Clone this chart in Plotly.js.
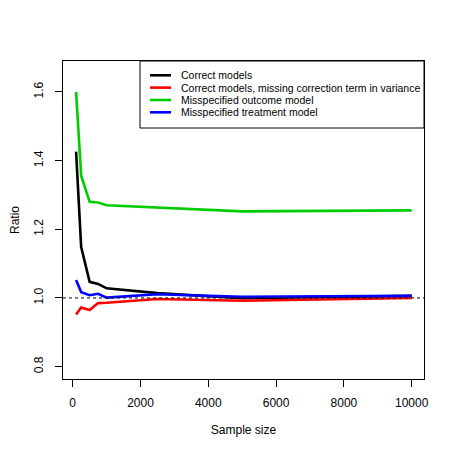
<!DOCTYPE html>
<html>
<head>
<meta charset="utf-8">
<script src="https://cdn.plot.ly/plotly-3.0.1.min.js"></script>
<style>
  html, body { margin: 0; padding: 0; background: #fff; }
  #plot { width: 457px; height: 457px; }
</style>
</head>
<body>
<div id="plot"></div>
<script>
// Sample sizes on the x axis
const sampleSize = [100, 250, 500, 750, 1000, 2500, 5000, 10000];

// Ratio for each scenario
const correctModels   = [1.426, 1.148, 1.047, 1.041, 1.028, 1.014, 0.999, 1.006];
const missingCorrTerm = [0.952, 0.972, 0.965, 0.985, 0.986, 0.997, 0.992, 1.000];
const missOutcome     = [1.600, 1.356, 1.280, 1.278, 1.270, 1.263, 1.252, 1.255];
const missTreatment   = [1.052, 1.017, 1.008, 1.012, 1.001, 1.011, 1.003, 1.006];

const seriesNames = [
    'Correct models',
    'Correct models, missing correction term in variance',
    'Misspecified outcome model',
    'Misspecified treatment model'
];
const seriesValues = [correctModels, missingCorrTerm, missOutcome, missTreatment];
const colors = ['#000000', '#ff0000', '#00cd00', '#0000ff'];

const xTicks = [0, 2000, 4000, 6000, 8000, 10000];
const yTicks = [0.8, 1.0, 1.2, 1.4, 1.6];

// plot box in pixels
const W = 457, H = 457;
const box = {left: 63, right: 424, top: 61, bottom: 379};
const pw = box.right - box.left, ph = box.bottom - box.top;
const px2x = p => (p - box.left) / pw;
const px2y = p => (box.bottom - p) / ph;

const font = {family: 'Liberation Sans, Arial, sans-serif', size: 12, color: '#000'};

let traces = seriesValues.map((vals, i) => ({
    x: sampleSize,
    y: vals,
    mode: 'lines',
    name: seriesNames[i],
    line: {color: colors[i], width: 2.6},
    showlegend: false,
    hoverinfo: 'skip'
}));

// hand made legend, R style
let shapes = [
    // reference line at ratio 1
    {type: 'line', xref: 'paper', yref: 'y', x0: 0, x1: 1, y0: 1, y1: 1,
     line: {color: '#000', width: 1, dash: '3px,3px'}},
    {type: 'rect', xref: 'paper', yref: 'paper',
     x0: px2x(140), x1: 1, y0: px2y(128), y1: 1,
     line: {color: '#000', width: 1}, fillcolor: '#fff', layer: 'above'}
];
let annotations = [];
const rowY = [75.3, 87.6, 100, 112.3];
seriesNames.forEach((name, i) => {
    shapes.push({type: 'line', xref: 'paper', yref: 'paper',
        x0: px2x(150), x1: px2x(171), y0: px2y(rowY[i]), y1: px2y(rowY[i]),
        line: {color: colors[i], width: 2.6}, layer: 'above'});
    annotations.push({xref: 'paper', yref: 'paper', x: px2x(179), y: px2y(rowY[i]),
        xanchor: 'left', yanchor: 'middle', showarrow: false, text: name,
        font: {family: font.family, size: 10.5, color: '#000'}});
});

const layout = {
    width: W,
    height: H,
    margin: {l: box.left, r: W - box.right, t: box.top, b: H - box.bottom},
    paper_bgcolor: '#fff',
    plot_bgcolor: '#fff',
    font: font,
    showlegend: false,
    xaxis: {
        range: [-286, 10363],
        tickvals: xTicks,
        ticktext: xTicks.map(String),
        ticks: 'outside',
        ticklen: 7,
        tickcolor: '#000',
        ticklabelstandoff: 6,
        showgrid: false,
        zeroline: false,
        showline: true,
        mirror: true,
        linecolor: '#000',
        linewidth: 1,
        title: {text: 'Sample size', font: font, standoff: 16}
    },
    yaxis: {
        range: [0.764, 1.690],
        tickvals: yTicks,
        ticktext: yTicks.map(v => v.toFixed(1)),
        tickangle: -90,
        ticks: 'outside',
        ticklen: 7,
        tickcolor: '#000',
        ticklabelstandoff: 7,
        showgrid: false,
        zeroline: false,
        showline: true,
        mirror: true,
        linecolor: '#000',
        linewidth: 1,
        title: {text: 'Ratio', font: font, standoff: 10}
    },
    shapes: shapes,
    annotations: annotations
};

Plotly.newPlot('plot', traces, layout, {staticPlot: true, displayModeBar: false});
</script>
</body>
</html>
